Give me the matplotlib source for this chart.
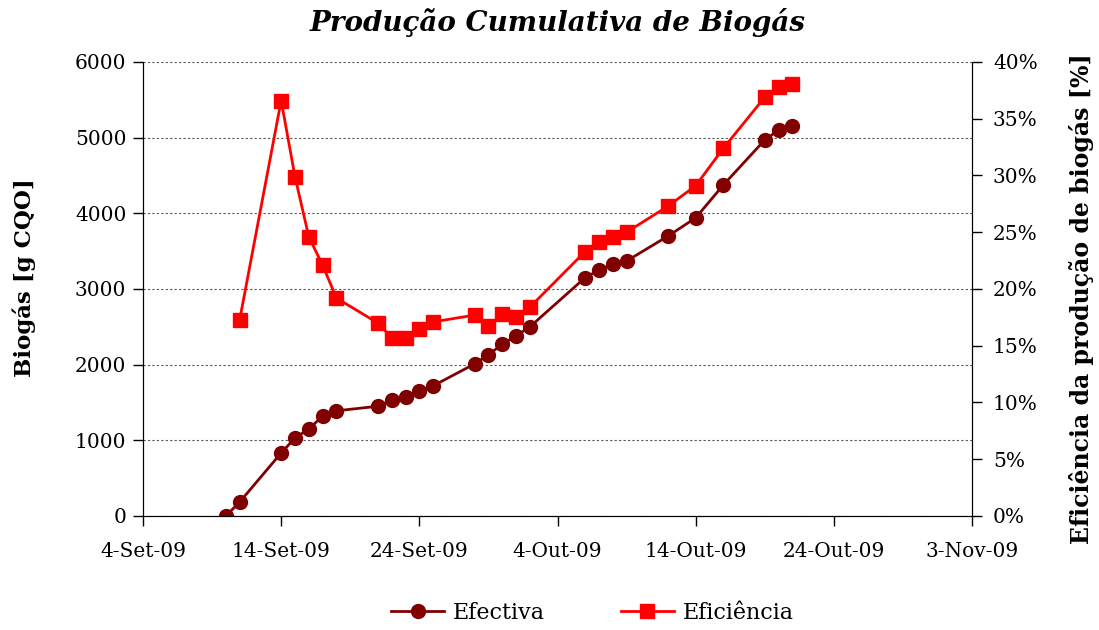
import datetime as dt
import matplotlib
matplotlib.use("Agg")
import matplotlib.pyplot as plt
from matplotlib.ticker import FuncFormatter

# Data
dates = ["2009-09-10", "2009-09-11", "2009-09-14", "2009-09-15", "2009-09-16",
         "2009-09-17", "2009-09-18", "2009-09-21", "2009-09-22", "2009-09-23",
         "2009-09-24", "2009-09-25", "2009-09-28", "2009-09-29", "2009-09-30",
         "2009-10-01", "2009-10-02", "2009-10-06", "2009-10-07", "2009-10-08",
         "2009-10-09", "2009-10-12", "2009-10-14", "2009-10-16", "2009-10-19",
         "2009-10-20", "2009-10-21"]
efectiva = [0, 185, 833, 1030, 1150, 1320, 1390, 1450, 1530, 1570,
            1650, 1720, 2010, 2130, 2270, 2380, 2500, 3150, 3250, 3330,
            3370, 3700, 3940, 4375, 4970, 5100, 5155]

eff_dates = dates[1:]
eficiencia = [17.3, 36.6, 29.9, 24.6, 22.1, 19.2, 17.0, 15.7, 15.7,
              16.5, 17.1, 17.7, 16.7, 17.8, 17.5, 18.4, 23.3, 24.1, 24.6,
              25.0, 27.3, 29.1, 32.4, 36.9, 37.8, 38.1]

tick_dates = ["2009-09-04", "2009-09-14", "2009-09-24", "2009-10-04",
              "2009-10-14", "2009-10-24", "2009-11-03"]
tick_labels = ["4-Set-09", "14-Set-09", "24-Set-09", "4-Out-09",
               "14-Out-09", "24-Out-09", "3-Nov-09"]

to_dt = lambda s: dt.datetime.strptime(s, "%Y-%m-%d")
x1 = [to_dt(d) for d in dates]
x2 = [to_dt(d) for d in eff_dates]
xt = [to_dt(d) for d in tick_dates]

plt.rcParams["font.family"] = "DejaVu Serif"

fig = plt.figure(figsize=(10.99, 6.30), dpi=100)
ax = fig.add_axes([0.1301, 0.181, 0.7544, 0.7206])
ax2 = ax.twinx()

ax.plot(x1, efectiva, color="#800000", marker="o", markersize=10, lw=2,
        label="Efectiva", zorder=3)
ax2.plot(x2, eficiencia, color="#ff0000", marker="s", markersize=10, lw=2,
         label="Eficiência", zorder=3)

ax.set_xlim(xt[0], xt[-1])
ax.set_xticks(xt)
ax.set_xticklabels(tick_labels)
ax.set_ylim(0, 6000)
ax.set_yticks(range(0, 6001, 1000))
ax2.set_ylim(0, 40)
ax2.set_yticks(range(0, 41, 5))
ax2.yaxis.set_major_formatter(FuncFormatter(lambda v, p: f"{v:.0f}%"))

ax.grid(axis="y", color="#555555", linestyle=(0, (2, 2)), lw=0.8)
for a in (ax, ax2):
    a.spines["top"].set_visible(False)
    a.tick_params(labelsize=14.5, length=7, width=1, direction="out", pad=5)
ax.tick_params(axis="x", pad=12)
ax2.tick_params(pad=8)

ax.set_ylabel("Biogás [g CQO]", fontsize=16.5, fontweight="bold")
ax.yaxis.set_label_coords(-0.129, 0.524)
ax2.set_ylabel("Eficiência da produção de biogás [%]", fontsize=17,
               fontweight="bold")
ax2.yaxis.set_label_coords(1.117, 0.478)
ax.set_title("Produção Cumulativa de Biogás", fontsize=20, fontweight="bold",
             style="italic", pad=22)

h1, l1 = ax.get_legend_handles_labels()
h2, l2 = ax2.get_legend_handles_labels()
fig.legend(h1 + h2, l1 + l2, loc="center", bbox_to_anchor=(0.539, 0.027),
           ncol=2, frameon=False, fontsize=16, handlelength=2.4,
           columnspacing=3.4, handletextpad=0.4)

fig.savefig("out.png", dpi=100)
